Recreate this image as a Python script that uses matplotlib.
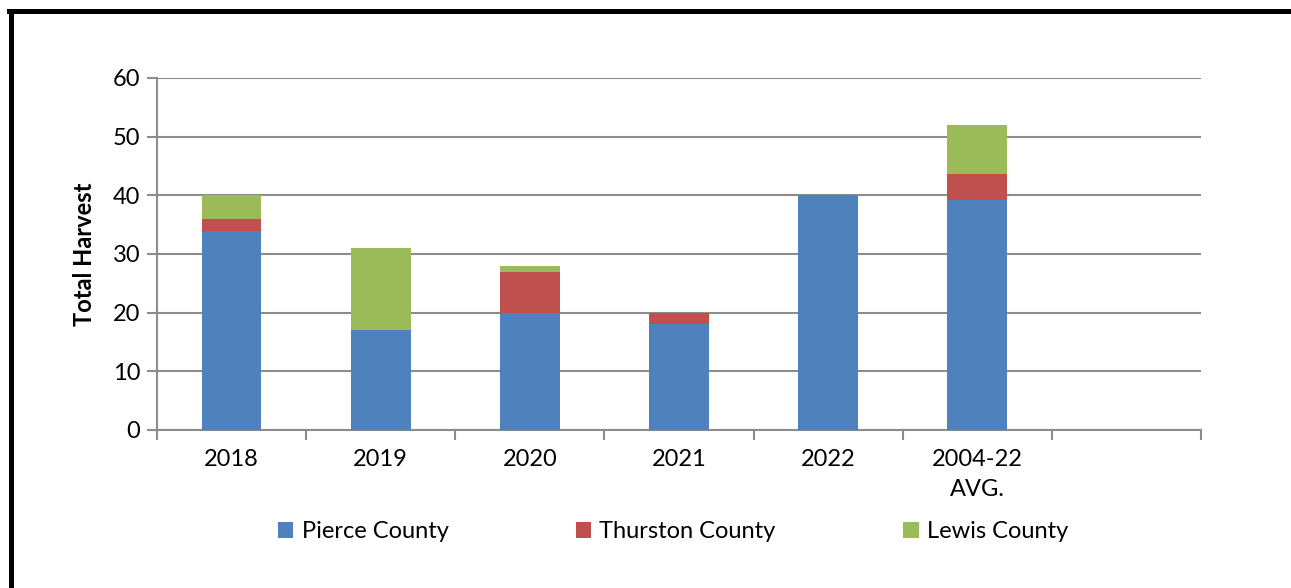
import numpy as np
import matplotlib.pyplot as plt

# Harvest by county per season (last slot left empty on the axis)
categories = ["2018", "2019", "2020", "2021", "2022", "2004-22\nAVG.", ""]
pierce = [34, 17, 20, 18, 40, 39.2, 0]
thurston = [2, 0, 7, 2, 0, 4.5, 0]
lewis = [4, 14, 1, 0, 0, 8.3, 0]

colors = {"Pierce County": "#4F81BD",
          "Thurston County": "#C0504D",
          "Lewis County": "#9BBB59"}

plt.rcParams['font.family'] = ['Lato', 'DejaVu Sans']
fs = 17

fig = plt.figure(figsize=(12.91, 5.88), dpi=100)
ax = fig.add_axes([157/1291, 1 - 430/588, (1201 - 157)/1291, (430 - 78)/588])

x = np.arange(len(categories))
w = 0.4
p = np.array(pierce)
t = np.array(thurston)
l = np.array(lewis)
ax.bar(x, p, w, color=colors["Pierce County"], label="Pierce County", zorder=3)
ax.bar(x, t, w, bottom=p, color=colors["Thurston County"], label="Thurston County", zorder=3)
ax.bar(x, l, w, bottom=p + t, color=colors["Lewis County"], label="Lewis County", zorder=3)

ax.set_xlim(-0.5, len(categories) - 0.5)
ax.set_ylim(0, 60)
ax.set_yticks(range(0, 61, 10))
ax.yaxis.grid(True, color="#8c8c8c", linewidth=1.5, zorder=0)

# category labels sit between the boundary ticks
ax.set_xticks(x)
ax.set_xticklabels(categories, fontsize=fs, linespacing=1.5)
ax.tick_params(axis="x", length=0, pad=14)
for b in np.arange(-0.5, len(categories) + 0.5, 1):
    ax.plot([b, b], [0, -0.025], transform=ax.get_xaxis_transform(),
            color="#8c8c8c", lw=1.5, clip_on=False, zorder=4)
ax.tick_params(axis="y", length=7, width=1.5, color="#8c8c8c", labelsize=fs, pad=5)

for side in ["top", "right"]:
    ax.spines[side].set_visible(False)
for side in ["left", "bottom"]:
    ax.spines[side].set_color("#8c8c8c")
    ax.spines[side].set_linewidth(1.5)

ax.set_ylabel("Total Harvest", fontsize=fs, fontweight="bold", labelpad=12)

fig.legend(loc="center", bbox_to_anchor=(673/1291, 1 - 532/588), ncol=3,
           frameon=False, fontsize=fs, handlelength=0.65, handleheight=0.65,
           handletextpad=0.35, columnspacing=5.4)

# outer frame, left and top edges
fig.add_artist(plt.Line2D([10.5/1291, 10.5/1291], [0, 1 - 11/588], color="black", lw=3.6))
fig.add_artist(plt.Line2D([8.7/1291, 1], [1 - 11/588, 1 - 11/588], color="black", lw=3.6))

fig.savefig("out.png", dpi=100)
